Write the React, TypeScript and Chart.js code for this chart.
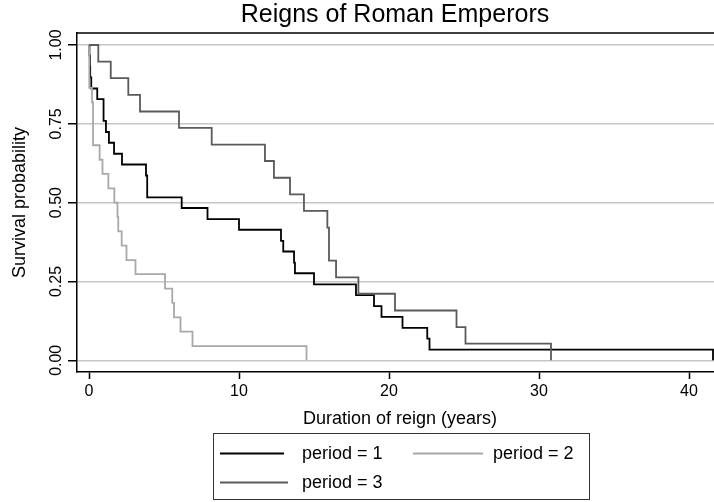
import React, { useEffect, useRef } from "react";
import { Chart, registerables } from "chart.js";

Chart.register(...registerables);

const TITLE = "Reigns of Roman Emperors";
const X_TITLE = "Duration of reign (years)";
const Y_TITLE = "Survival probability";

const xTickValues = [0, 10, 20, 30, 40];
const yTickValues = [0, 0.25, 0.5, 0.75, 1];

const seriesLabels = ["period = 1", "period = 2", "period = 3"];

// Kaplan-Meier step points (time, survival)
const period1Times = [0, 0.03, 0.06, 0.08, 0.15, 0.55, 0.97, 1.13, 1.33, 1.67, 2.2, 3.8, 3.88, 6.18, 7.9, 10.0, 12.8, 12.95, 13.67, 13.73, 15.0, 17.8, 19.0, 19.5, 20.9, 22.55, 22.7, 41.6];
const period1Survival = [1, 0.966, 0.931, 0.897, 0.862, 0.828, 0.759, 0.724, 0.69, 0.655, 0.621, 0.586, 0.517, 0.483, 0.448, 0.414, 0.379, 0.345, 0.31, 0.276, 0.241, 0.207, 0.172, 0.138, 0.103, 0.069, 0.034, 0];

const period2Times = [0, 0.02, 0.2, 0.27, 0.71, 0.9, 1.29, 1.69, 1.9, 1.95, 2.18, 2.5, 3.1, 5.07, 5.55, 5.67, 6.1, 6.9, 14.5];
const period2Survival = [1, 0.864, 0.818, 0.682, 0.636, 0.591, 0.545, 0.5, 0.455, 0.409, 0.364, 0.318, 0.273, 0.227, 0.182, 0.136, 0.091, 0.045, 0];

const period3Times = [0, 0.62, 1.45, 2.62, 3.4, 6.0, 8.18, 11.73, 12.33, 13.4, 14.33, 15.89, 16.0, 16.47, 17.96, 20.4, 24.5, 25.1, 30.8];
const period3Survival = [1, 0.947, 0.895, 0.842, 0.789, 0.737, 0.684, 0.632, 0.579, 0.526, 0.474, 0.421, 0.316, 0.263, 0.211, 0.158, 0.105, 0.053, 0];

const seriesColors = ["#000000", "#a8a8a8", "#5a5a5a"];

const FONT = '"Liberation Sans", Arial, Helvetica, sans-serif';

function toPoints(times: number[], surv: number[]) {
  return times.map((t, i) => ({ x: t, y: surv[i] }));
}

const decorPlugin = {
  id: "decor",
  afterDraw(chart: any) {
    const { ctx, chartArea, scales } = chart;
    const xs = scales.x;
    const ys = scales.y;
    ctx.save();

    // plot region frame (top / right)
    ctx.strokeStyle = "#000";
    ctx.lineWidth = 1.5;
    ctx.beginPath();
    ctx.moveTo(chartArea.left, chartArea.top);
    ctx.lineTo(chartArea.right, chartArea.top);
    ctx.lineTo(chartArea.right, chartArea.bottom);
    ctx.stroke();

    ctx.fillStyle = "#000";

    // title
    ctx.font = `25px ${FONT}`;
    ctx.textAlign = "center";
    ctx.textBaseline = "alphabetic";
    ctx.fillText(TITLE, 395, 22);

    // y tick labels (rotated)
    ctx.font = `16px ${FONT}`;
    for (const v of yTickValues) {
      const py = ys.getPixelForValue(v);
      ctx.save();
      ctx.translate(61, py);
      ctx.rotate(-Math.PI / 2);
      ctx.textAlign = "center";
      ctx.textBaseline = "alphabetic";
      ctx.fillText(v.toFixed(2), 0, 0);
      ctx.restore();
    }

    // x tick labels
    ctx.textAlign = "center";
    ctx.textBaseline = "alphabetic";
    for (const v of xTickValues) {
      const px = xs.getPixelForValue(v);
      ctx.fillText(String(v), px, 396);
    }

    // axis titles
    ctx.font = `18px ${FONT}`;
    ctx.fillText(X_TITLE, 400, 424);
    ctx.save();
    ctx.translate(25, (chartArea.top + chartArea.bottom) / 2);
    ctx.rotate(-Math.PI / 2);
    ctx.fillText(Y_TITLE, 0, 0);
    ctx.restore();

    // legend
    ctx.strokeStyle = "#333";
    ctx.lineWidth = 1;
    ctx.strokeRect(213.5, 433.5, 376, 66);
    const slots = [
      { lx: 220, lx2: 284, tx: 302, ly: 453.5, ty: 459 },
      { lx: 413, lx2: 483, tx: 493, ly: 453.5, ty: 459 },
      { lx: 220, lx2: 288, tx: 302, ly: 482.5, ty: 488 },
    ];
    ctx.textAlign = "left";
    chart.data.datasets.forEach((ds: any, i: number) => {
      const s = slots[i];
      ctx.strokeStyle = ds.borderColor;
      ctx.lineWidth = 1.8;
      ctx.beginPath();
      ctx.moveTo(s.lx, s.ly);
      ctx.lineTo(s.lx2, s.ly);
      ctx.stroke();
      ctx.fillStyle = "#000";
      ctx.fillText(ds.label, s.tx, s.ty);
    });

    ctx.restore();
  },
};

export default function App() {
  const ref = useRef<HTMLCanvasElement | null>(null);

  useEffect(() => {
    if (!ref.current) return;
    const datasets = [
      toPoints(period1Times, period1Survival),
      toPoints(period2Times, period2Survival),
      toPoints(period3Times, period3Survival),
    ].map((pts, i) => ({
      label: seriesLabels[i],
      data: pts,
      borderColor: seriesColors[i],
      backgroundColor: seriesColors[i],
      borderWidth: 1.8,
      stepped: "before" as const,
      pointRadius: 0,
      fill: false,
    }));
    // draw period 1 on top
    const order = [2, 1, 0];
    const chart = new Chart(ref.current, {
      type: "line",
      data: { datasets: datasets.map((d, i) => ({ ...d, order: order[i] })) },
      options: {
        responsive: false,
        animation: false,
        devicePixelRatio: 1,
        layout: { padding: { top: 33, right: 2, left: 0, bottom: 0 } },
        plugins: {
          legend: { display: false },
          title: { display: false },
          tooltip: { enabled: false },
        },
        scales: {
          x: {
            type: "linear",
            min: -0.8,
            max: 42.2,
            afterBuildTicks: (s: any) => {
              s.ticks = xTickValues.map((v) => ({ value: v }));
            },
            afterFit: (s: any) => {
              s.height = 130;
            },
            grid: {
              drawOnChartArea: false,
              drawTicks: true,
              tickLength: 7,
              tickColor: "#000",
              tickWidth: 1.5,
            },
            border: { display: true, color: "#000", width: 1.5 },
            ticks: { display: false },
          },
          y: {
            type: "linear",
            min: -0.0371,
            max: 1.038,
            afterBuildTicks: (s: any) => {
              s.ticks = yTickValues.map((v) => ({ value: v }));
            },
            afterFit: (s: any) => {
              s.width = 77;
            },
            grid: {
              color: "#c6c6c6",
              lineWidth: 1.5,
              drawTicks: true,
              tickLength: 9,
              tickColor: "#000",
              tickWidth: 1.5,
            },
            border: { display: true, color: "#000", width: 1.5 },
            ticks: { display: false },
          },
        },
      } as any,
      plugins: [decorPlugin],
    });
    return () => chart.destroy();
  }, []);

  return (
    <div
      style={{
        position: "fixed",
        left: 0,
        top: 0,
        width: 714,
        height: 502,
        overflow: "hidden",
        background: "#fff",
      }}
    >
      <canvas ref={ref} width={724} height={502} style={{ display: "block" }} />
    </div>
  );
}
